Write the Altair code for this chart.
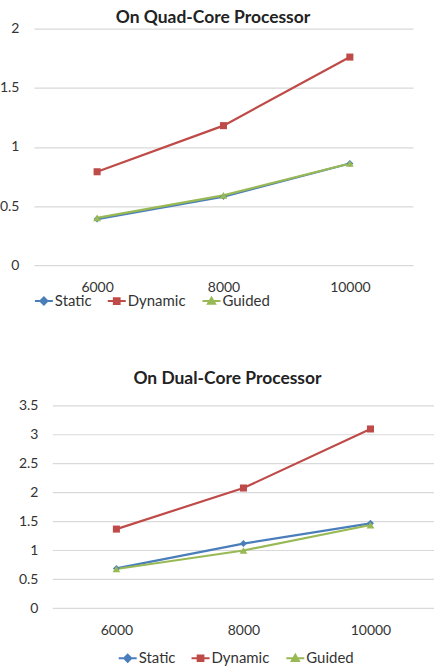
import altair as alt
import pandas as pd

# Problem sizes on the x axis
sizes = ["6000", "8000", "10000"]
series = ["Static", "Dynamic", "Guided"]

# Execution times on the quad-core machine
quad_static = [0.39, 0.58, 0.86]
quad_dynamic = [0.79, 1.18, 1.76]
quad_guided = [0.40, 0.59, 0.86]

# Execution times on the dual-core machine
dual_static = [0.69, 1.12, 1.47]
dual_dynamic = [1.37, 2.08, 3.10]
dual_guided = [0.68, 1.00, 1.44]

quad_ticks = [0, 0.5, 1, 1.5, 2]
dual_ticks = [0, 0.5, 1, 1.5, 2, 2.5, 3, 3.5]

colors = ["#4A7EBB", "#BE4B48", "#98B954"]
marker_shapes = ["diamond", "square", "triangle-up"]
# legend glyphs: a short line with the marker in the middle
legend_paths = [
    "M-1,0H1M0,-0.4L0.4,0L0,0.4L-0.4,0Z",
    "M-1,0H1M-0.32,-0.32H0.32V0.32H-0.32Z",
    "M-1,0H1M0,-0.38L0.4,0.3H-0.4Z",
]
marker_sizes = [48, 50, 60]

FONT = "Lato"
TEXT = "#333333"
GRID = "#D9D9D9"


def long_table(static, dynamic, guided):
    rows = []
    for name, vals in zip(series, [static, dynamic, guided]):
        for s, v in zip(sizes, vals):
            rows.append({"size": s, "series": name, "time": v})
    return pd.DataFrame(rows)


def panel(df, title, ticks, width, height, x_range, y_offset, grid_from,
          title_offset, title_dx, legend):
    color_scale = alt.Scale(domain=series, range=colors)
    x_scale = alt.Scale(type="point", padding=0.5)
    if x_range is not None:
        x_scale = alt.Scale(type="point", padding=0.5, range=x_range)

    x_enc = alt.X(
        "size:N", sort=sizes, scale=x_scale,
        axis=alt.Axis(title=None, labelAngle=0, ticks=False, tickSize=0,
                      domain=False, grid=False, labelPadding=15.5,
                      labelFont=FONT, labelFontSize=14, labelColor=TEXT),
    )
    y_enc = alt.Y(
        "time:Q",
        scale=alt.Scale(domain=[ticks[0], ticks[-1]], nice=False),
        axis=alt.Axis(title=None, values=ticks, format="~g", ticks=False,
                      tickSize=0, domain=False, grid=grid_from is None,
                      gridColor=GRID, gridWidth=1.2, labelPadding=15,
                      labelOverlap=False, offset=y_offset, labelFont=FONT,
                      labelFontSize=14, labelColor=TEXT),
    )

    base = alt.Chart(df)
    layers = []

    if grid_from is not None:
        # horizontal gridlines that start a little right of the panel edge
        grid_df = pd.DataFrame({"time": ticks})
        layers.append(
            alt.Chart(grid_df).mark_rule(color=GRID, strokeWidth=1.2).encode(
                y=y_enc,
                x=alt.value(grid_from),
                x2=alt.value(width),
            )
        )

    layers.append(
        base.mark_line(strokeWidth=2.2).encode(
            x=x_enc, y=y_enc,
            color=alt.Color("series:N", scale=color_scale, legend=None),
            detail="series:N",
        )
    )
    for name, shape, sz in zip(series, marker_shapes, marker_sizes):
        layers.append(
            base.transform_filter(alt.datum.series == name)
            .mark_point(filled=True, shape=shape, size=sz, opacity=1)
            .encode(
                x=x_enc, y=y_enc,
                color=alt.Color("series:N", scale=color_scale, legend=None),
            )
        )

    # legend-only layer: its points are transparent, the legend shows the entries
    key_df = pd.DataFrame({"series": series})
    layers.append(
        alt.Chart(key_df).mark_point(filled=True, opacity=0).encode(
            fill=alt.Fill("series:N", scale=alt.Scale(domain=series, range=colors),
                          legend=legend),
            stroke=alt.Stroke("series:N", scale=alt.Scale(domain=series, range=colors),
                              legend=legend),
            shape=alt.Shape("series:N", scale=alt.Scale(domain=series, range=legend_paths),
                            legend=legend),
        )
    )

    return alt.layer(*layers).properties(
        width=width, height=height,
        title=alt.TitleParams(
            text=title, anchor="middle", font=FONT, fontSize=17.5,
            fontWeight="bold", color="#222222", offset=title_offset,
            dx=title_dx, baseline="alphabetic",
        ),
    )


legend_style = dict(
    title=None, direction="horizontal", symbolSize=324, symbolStrokeWidth=2,
    labelOffset=1, columnPadding=12, labelFont=FONT, labelFontSize=15,
    labelColor=TEXT, symbolOpacity=1,
)
quad_legend = alt.Legend(orient="bottom", offset=-4, **legend_style)
dual_legend = alt.Legend(orient="none", legendX=84, legendY=243, **legend_style)

quad = panel(long_table(quad_static, quad_dynamic, quad_guided),
             "On Quad-Core Processor", quad_ticks, 380, 237, None, 0, None,
             -19, -10.5, quad_legend)
dual = panel(long_table(dual_static, dual_dynamic, dual_guided),
             "On Dual-Core Processor", dual_ticks, 401, 203, [19, 401], -19, 19,
             -3, -6.5, dual_legend)

chart = alt.vconcat(quad, dual, spacing=61).properties(
    padding={"left": -1, "top": 8, "right": 0, "bottom": 0},
    background="white",
).configure_view(stroke=None)

chart.save("out.html", embed_options={"renderer": "svg", "actions": False})
